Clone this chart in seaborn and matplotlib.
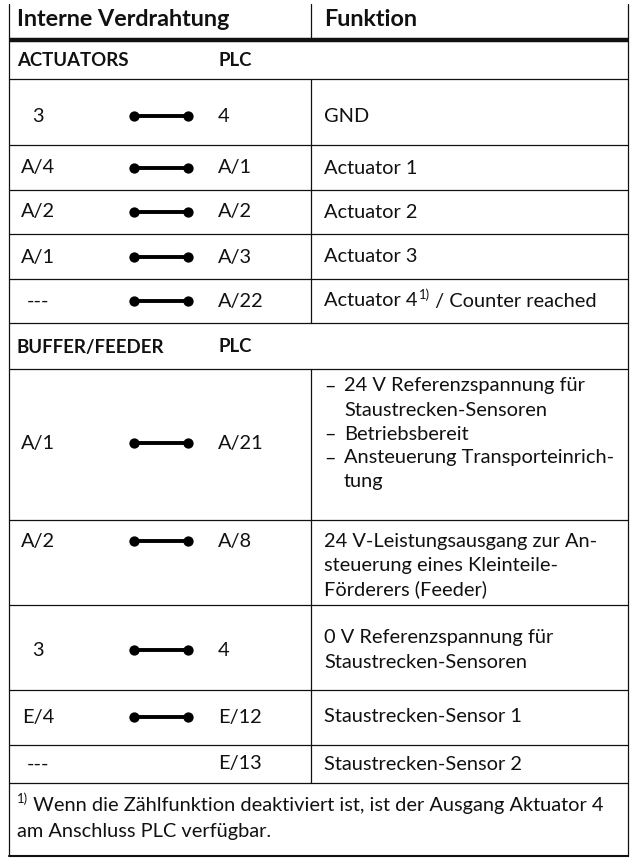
import matplotlib
matplotlib.use("Agg")
import matplotlib.pyplot as plt
import seaborn as sns
import pandas as pd

# --- Tabelleninhalt ---
header_left = "Interne Verdrahtung"
header_right = "Funktion"
sections = ["ACTUATORS", "BUFFER/FEEDER"]
section_right = "PLC"

left_labels = ["3", "A/4", "A/2", "A/1", "---", "A/1", "A/2", "3", "E/4", "---"]
plc_labels = ["4", "A/1", "A/2", "A/3", "A/22", "A/21", "A/8", "4", "E/12", "E/13"]
connected = [True, True, True, True, True, True, True, True, True, False]
functions = [
    ["GND"],
    ["Actuator 1"],
    ["Actuator 2"],
    ["Actuator 3"],
    ["Actuator 4", "1)", " / Counter reached"],
    ["24 V Referenzspannung für", "Staustrecken-Sensoren", "Betriebsbereit",
     "Ansteuerung Transporteinrich-", "tung"],
    ["24 V-Leistungsausgang zur An-", "steuerung eines Kleinteile-", "Förderers (Feeder)"],
    ["0 V Referenzspannung für", "Staustrecken-Sensoren"],
    ["Staustrecken-Sensor 1"],
    ["Staustrecken-Sensor 2"],
]
# Aufzählungsstriche im Mehrzeilenfeld (Zeile 5)
bullet_lines = [0, 2, 3]
footnote = ["1)", " Wenn die Zählfunktion deaktiviert ist, ist der Ausgang Aktuator 4",
            "am Anschluss PLC verfügbar."]

# --- Layout (Pixel) ---
W, H = 637, 864
x_left, x_mid, x_right = 9, 311, 628
y_thick = 40
row_bounds = [79, 145, 190, 234, 279, 323, 369, 520, 605, 690, 745, 783]
section_rows = {0: (40, 79), 1: (323, 369)}
label_y = [116, 168, 212, 257, 301, 443, 541, 650, 717, 764]
func_y0 = [116, 168, 212, 257, 301, 386, 541, 638, 717, 764]
line_h = 24
y_bottom = 856

sns.set_theme(style="white")
plt.rcParams["font.family"] = ["Lato", "DejaVu Sans"]
fs = 14.4
fs_head = 16.8
fs_sec = 13.4

fig = plt.figure(figsize=(W / 100, H / 100), dpi=100)
ax = fig.add_axes([0, 0, 1, 1])
ax.set_xlim(0, W)
ax.set_ylim(H, 0)
ax.axis("off")

lc = "#111111"
# Rahmen
ax.plot([x_left, x_left], [4, y_bottom], color=lc, lw=0.9)
ax.plot([x_right, x_right], [4, y_bottom], color=lc, lw=0.9)
ax.plot([x_left, x_right], [y_bottom, y_bottom], color=lc, lw=1.5)
ax.plot([x_left, x_right], [y_thick, y_thick], color=lc, lw=3.2, solid_capstyle="butt")
ax.plot([x_mid, x_mid], [4, y_thick], color=lc, lw=0.9)

# Kopfzeile
ax.text(17, 20, header_left, fontsize=fs_head, fontweight="bold", va="center", color=lc)
ax.text(324, 20, header_right, fontsize=fs_head, fontweight="bold", va="center", color=lc)

# Abschnittszeilen
for (y0, y1), name in zip(section_rows.values(), sections):
    yc = (y0 + y1) / 2 + 1
    ax.text(17, yc, name, fontsize=fs_sec, fontweight="bold", va="center", color=lc)
    ax.text(218, yc, section_right, fontsize=fs_sec, fontweight="bold", va="center", color=lc)

for yb in row_bounds:
    ax.plot([x_left, x_right], [yb, yb], color=lc, lw=0.9)

# Datenzeilen
row_tops = [79, 145, 190, 234, 279, 369, 520, 605, 690, 745]
row_bots = [145, 190, 234, 279, 323, 520, 605, 690, 745, 783]
for i in range(len(left_labels)):
    ax.plot([x_mid, x_mid], [row_tops[i], row_bots[i]], color=lc, lw=0.9)
    ax.text(38, label_y[i], left_labels[i], fontsize=fs, va="center", ha="center", color=lc)
    ax.text(218, label_y[i], plc_labels[i], fontsize=fs, va="center", ha="left", color=lc)

conn = pd.DataFrame({
    "x0": [134] * len(label_y),
    "x1": [188] * len(label_y),
    "y": label_y,
    "on": connected,
})
conn = conn[conn["on"]]
for _, r in conn.iterrows():
    ax.plot([r.x0, r.x1], [r.y, r.y], color="black", lw=2.8, solid_capstyle="butt")
dots = pd.DataFrame({"x": list(conn.x0) + list(conn.x1), "y": list(conn.y) * 2})
sns.scatterplot(data=dots, x="x", y="y", ax=ax, color="black", s=55, linewidth=0, zorder=5)

fig.canvas.draw()
renderer = fig.canvas.get_renderer()
inv = ax.transData.inverted()


def text_w(t):
    bb = t.get_window_extent(renderer=renderer)
    (x0, _), (x1, _) = inv.transform([[bb.x0, 0], [bb.x1, 0]])
    return x1 - x0


x_func = 324
for i, lines in enumerate(functions):
    if i == 4:
        t = ax.text(x_func, func_y0[i], lines[0], fontsize=fs, va="center", color=lc)
        x = x_func + text_w(t) + 1
        t2 = ax.text(x, func_y0[i] - 6, lines[1], fontsize=fs * 0.65, va="center", color=lc)
        x += text_w(t2)
        ax.text(x, func_y0[i], lines[2], fontsize=fs, va="center", color=lc)
    elif i == 5:
        for k, ln in enumerate(lines):
            y = func_y0[i] + k * line_h
            if k in bullet_lines:
                ax.text(x_func, y, "–", fontsize=fs, va="center", color=lc)
            ax.text(x_func + 20, y, ln, fontsize=fs, va="center", color=lc)
    else:
        for k, ln in enumerate(lines):
            ax.text(x_func, func_y0[i] + k * line_h, ln, fontsize=fs, va="center", color=lc)

# Fußnote
t = ax.text(17, 799, footnote[0], fontsize=fs * 0.65, va="center", color=lc)
ax.text(17 + text_w(t), 805, footnote[1], fontsize=fs, va="center", color=lc)
ax.text(17, 831, footnote[2], fontsize=fs, va="center", color=lc)

fig.savefig("out.png", dpi=100)
